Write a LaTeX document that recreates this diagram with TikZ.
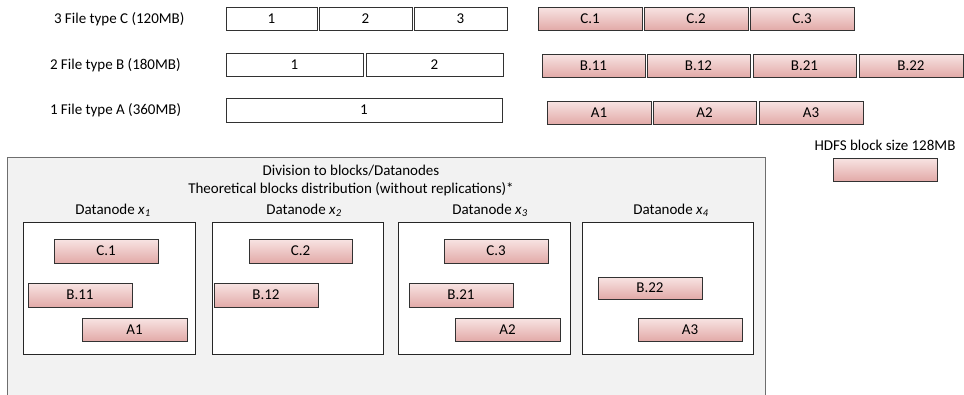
\documentclass[tikz,border=0pt]{standalone}
\usepackage{fontspec}
\setmainfont{Carlito}
\definecolor{pinktop}{RGB}{248,228,227}
\definecolor{pinkbot}{RGB}{226,170,168}
\definecolor{boxedge}{RGB}{50,50,50}
\definecolor{grayfill}{RGB}{242,242,242}
\definecolor{grayedge}{RGB}{110,110,110}
\tikzset{
  base/.style={inner sep=0pt,outer sep=0pt,font=\fontsize{15}{18}\selectfont},
  pinkblk/.style={base,draw=boxedge,line width=0.9pt,top color=pinktop,bottom color=pinkbot,minimum height=23pt,minimum width=104pt},
  whitebox/.style={base,draw=boxedge,line width=0.8pt,fill=white,minimum height=23pt},
  dnbox/.style={base,draw=black!85,line width=0.9pt,fill=white,minimum width=172pt,minimum height=132pt},
  lbl/.style={base},
}
\newcommand{\dn}[1]{Datanode \textit{x}\textsubscript{\textit{#1}}}
\begin{document}
\begin{tikzpicture}[x=1pt,y=-1pt]
\clip (0,0) rectangle (964,394);
\fill[white] (0,0) rectangle (964,394);
% file labels
\node[lbl,anchor=west] (lc) at (54,19) {3 File type C (120MB)};
\node[lbl,anchor=west] (lb) at (50,65) {2 File type B (180MB)};
\node[lbl,anchor=west] (la) at (50,110) {1 File type A (360MB)};
% white file boxes
\node[whitebox,minimum width=91pt] (wc1) at (271.5,18.5) {1};
\node[whitebox,minimum width=93pt] (wc2) at (365.5,18.5) {2};
\node[whitebox,minimum width=93pt] (wc3) at (460.5,18.5) {3};
\node[whitebox,minimum width=137pt] (wb1) at (294.5,64.5) {1};
\node[whitebox,minimum width=137pt] (wb2) at (434.5,64.5) {2};
\node[whitebox,minimum width=276pt,minimum height=24pt] (wa1) at (364,110) {1};
% pink blocks
\node[pinkblk] (pc1) at (590,18.5) {C.1};
\node[pinkblk] (pc2) at (696,18.5) {C.2};
\node[pinkblk] (pc3) at (802,18.5) {C.3};
\node[pinkblk,minimum width=103pt] (pb11) at (593.5,65.5) {B.11};
\node[pinkblk,minimum width=103pt] (pb12) at (698.5,65.5) {B.12};
\node[pinkblk,minimum width=103pt] (pb21) at (804.5,65.5) {B.21};
\node[pinkblk] (pb22) at (911,65.5) {B.22};
\node[pinkblk] (pa1) at (599,112.5) {A1};
\node[pinkblk,minimum width=103pt] (pa2) at (704.5,112.5) {A2};
\node[pinkblk] (pa3) at (811,112.5) {A3};
% HDFS legend
\node[lbl] (hdfs) at (885,145) {HDFS block size 128MB};
\node[pinkblk] (hdfsbox) at (885,169.5) {};
% gray panel
\draw[grayedge,fill=grayfill,line width=1pt] (7,400) -- (7,157) -- (765,157) -- (765,400);
\node[lbl] (t1) at (351,171) {Division to blocks/Datanodes};
\node[lbl] (t2) at (351,189) {Theoretical blocks distribution (without replications)*};
% datanodes
\node[lbl] (d1l) at (113,210) {\dn{1}};
\node[lbl] (d2l) at (304,210) {\dn{2}};
\node[lbl] (d3l) at (490,210) {\dn{3}};
\node[lbl] (d4l) at (671,210) {\dn{4}};
\node[dnbox] (d1) at (109,288) {};
\node[dnbox,minimum width=171pt] (d2) at (297.5,288) {};
\node[dnbox] (d3) at (484,288) {};
\node[dnbox,minimum width=171pt] (d4) at (667.5,288) {};
% blocks in datanodes
\node[pinkblk,minimum height=24pt] (n1c) at (106,251) {C.1};
\node[pinkblk,minimum height=24pt] (n1b) at (80,295) {B.11};
\node[pinkblk,minimum width=105pt] (n1a) at (134.5,329.5) {A1};
\node[pinkblk,minimum width=103pt,minimum height=24pt] (n2c) at (300.5,251) {C.2};
\node[pinkblk,minimum height=24pt] (n2b) at (266,295) {B.12};
\node[pinkblk,minimum height=24pt] (n3c) at (496,251) {C.3};
\node[pinkblk,minimum height=24pt] (n3b) at (461,295) {B.21};
\node[pinkblk,minimum width=105pt] (n3a) at (507.5,329.5) {A2};
\node[pinkblk,minimum height=22pt] (n4b) at (650,288) {B.22};
\node[pinkblk] (n4a) at (690,329.5) {A3};
\end{tikzpicture}
\end{document}
